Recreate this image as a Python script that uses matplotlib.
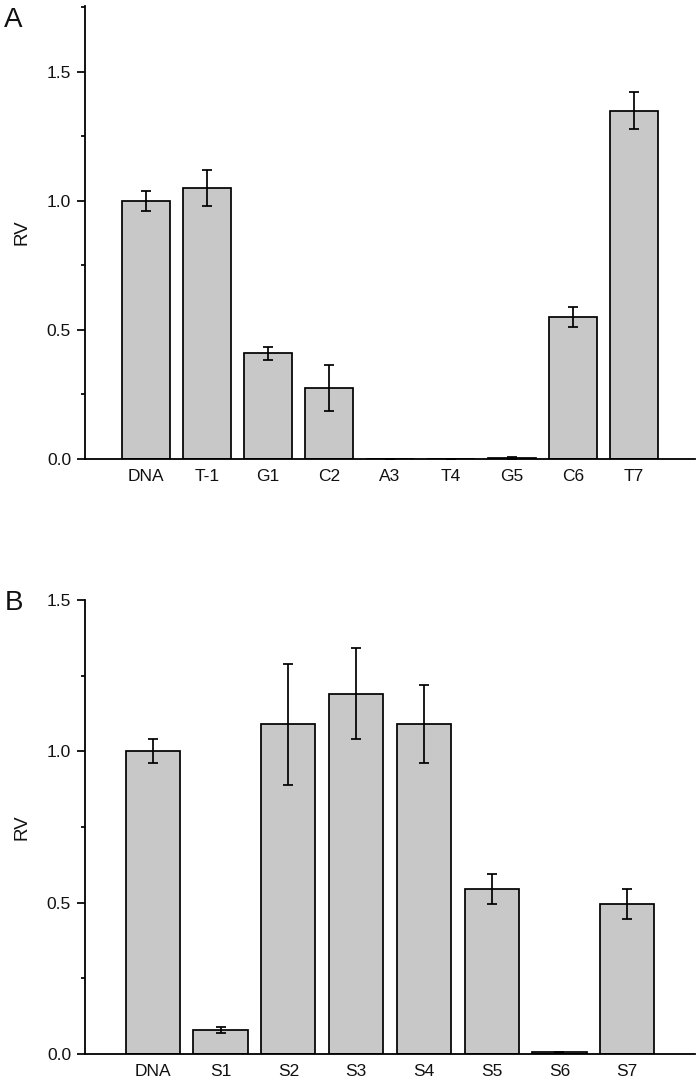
import numpy as np
import matplotlib.pyplot as plt
from matplotlib.ticker import MultipleLocator

plt.rcParams['font.family'] = ['Liberation Sans', 'DejaVu Sans']

# Panel A data
labels_a = ['DNA', 'T-1', 'G1', 'C2', 'A3', 'T4', 'G5', 'C6', 'T7']
rv_a = [1.0, 1.05, 0.41, 0.275, 0.0, 0.0, 0.003, 0.55, 1.35]
err_a = [0.04, 0.07, 0.025, 0.09, 0.0, 0.0, 0.003, 0.04, 0.07]

# Panel B data
labels_b = ['DNA', 'S1', 'S2', 'S3', 'S4', 'S5', 'S6', 'S7']
rv_b = [1.0, 0.08, 1.09, 1.19, 1.09, 0.545, 0.005, 0.495]
err_b = [0.04, 0.01, 0.2, 0.15, 0.13, 0.05, 0.003, 0.05]

BAR_COLOR = '#c8c8c8'
TXT = '#111111'
LW = 1.25

fig = plt.figure(figsize=(6.99, 10.81), dpi=100)
ax_a = fig.add_axes([85/699, 1 - 459/1081, 610/699, 453/1081])
ax_b = fig.add_axes([85/699, 1 - 1054/1081, 610/699, 454/1081])


def draw_panel(ax, labels, vals, errs, ymax):
    x = np.arange(1, len(labels) + 1)
    ax.bar(x, vals, width=0.8, color=BAR_COLOR, edgecolor='black', linewidth=LW, zorder=2)
    ax.errorbar(x, vals, yerr=errs, fmt='none', ecolor='black', elinewidth=LW,
                capsize=3.3, capthick=LW, zorder=3)
    ax.set_xlim(0, len(labels) + 1)
    ax.set_ylim(0, ymax)
    ax.set_xticks(x)
    ax.set_xticklabels(labels)
    ax.yaxis.set_major_locator(MultipleLocator(0.5))
    ax.yaxis.set_minor_locator(MultipleLocator(0.25))
    ax.yaxis.set_major_formatter(plt.FuncFormatter(lambda v, _: f'{v:.1f}'))
    ax.tick_params(axis='x', length=0, pad=7, labelsize=12.5, labelcolor=TXT)
    ax.tick_params(axis='y', which='major', direction='out', length=6, width=LW,
                   pad=4, labelsize=12.5, labelcolor=TXT)
    ax.tick_params(axis='y', which='minor', direction='out', length=3, width=LW)
    for side in ['top', 'right']:
        ax.spines[side].set_visible(False)
    for side in ['left', 'bottom']:
        ax.spines[side].set_linewidth(1.3)
    ax.set_ylabel('RV', fontsize=13.5, color=TXT, labelpad=12)
    return ax


draw_panel(ax_a, labels_a, rv_a, err_a, 1.755)
draw_panel(ax_b, labels_b, rv_b, err_b, 1.5)

fig.text(4/699, 1 - 27/1081, 'A', fontsize=20, color=TXT)
fig.text(5/699, 1 - 610/1081, 'B', fontsize=20, color=TXT)

fig.savefig('out.png', dpi=100)
